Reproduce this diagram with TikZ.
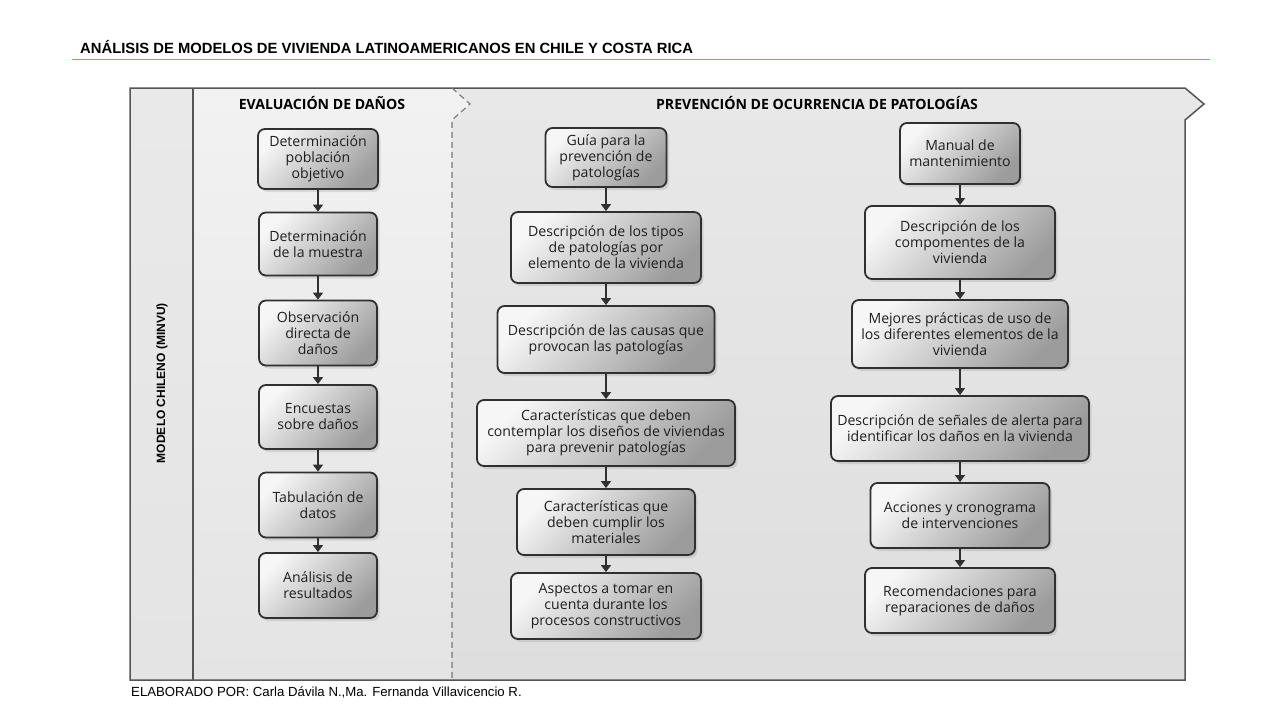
\documentclass[tikz,border=0pt]{standalone}
\usepackage{fontspec}
\setmainfont{Liberation Sans}
\newfontfamily\boxfamily{Open Sans}
\usetikzlibrary{arrows.meta,shadows,shapes.misc}
\definecolor{rulecol}{HTML}{CC8E45}
\definecolor{framecol}{HTML}{555555}
\definecolor{boxline}{HTML}{303030}
\definecolor{boxtext}{HTML}{1E1E1E}
\definecolor{boxlight}{HTML}{F6F6F6}
\definecolor{boxdark}{HTML}{9C9C9C}
\definecolor{stripA}{HTML}{E9E9E9}
\definecolor{stripB}{HTML}{E4E4E4}
\definecolor{secAtop}{HTML}{F2F2F2}
\definecolor{secAbot}{HTML}{E4E4E4}
\definecolor{secBtop}{HTML}{E8E8E8}
\definecolor{secBbot}{HTML}{DEDEDE}
\tikzset{
  fbox/.style={draw=boxline, line width=1.8pt, rounded corners=7pt,
    top color=boxlight, bottom color=boxdark, shading angle=45,
    drop shadow={shadow xshift=2.5pt, shadow yshift=-3pt, opacity=0.22},
    align=center, inner sep=0pt, text=boxtext,
    font=\boxfamily\fontsize{14.1}{16}\selectfont},
  farrow/.style={draw=boxline, line width=1.4pt, -{Triangle[width=10pt,length=7pt]}},
  sechead/.style={font=\boxfamily\bfseries\fontsize{14.1}{16}\selectfont, text=black, inner sep=0pt},
}
\begin{document}
\begin{tikzpicture}[x=1pt,y=-1pt]
\useasboundingbox (0,0) rectangle (1280,720);
\fill[white] (0,0) rectangle (1280,720);
% title and rule
\node[anchor=west, inner sep=0pt, font=\bfseries\fontsize{14.8}{16}\selectfont] (title) at (80,47)
  {ANÁLISIS DE MODELOS DE VIVIENDA LATINOAMERICANOS EN CHILE Y COSTA RICA};
\draw[rulecol, line width=1.5pt] (72,59.5) -- (1210,59.5);
% backgrounds
\shade[top color=stripA, bottom color=stripB] (130,88) rectangle (193,680);
\shade[top color=secAtop, bottom color=secAbot]
  (193,88) -- (452,88) -- (470,104) -- (452,120) -- (452,680) -- (193,680) -- cycle;
\shade[top color=secBtop, bottom color=secBbot]
  (452,88) -- (1185,88) -- (1204,104) -- (1185,120) -- (1185,680) -- (452,680) -- (452,120) -- (470,104) -- cycle;
% frame
\draw[framecol, line width=1.5pt, line join=miter]
  (130,88) -- (1185,88) -- (1204,104) -- (1185,120) -- (1185,680) -- (130,680) -- cycle;
\draw[framecol, line width=1.3pt] (193,88) -- (193,680);
\draw[framecol!80, line width=1.1pt, dash pattern=on 6pt off 4pt]
  (452,88) -- (470,104) -- (452,120) -- (452,680);
% headers
\node[sechead] (h1) at (322,103) {EVALUACIÓN DE DAÑOS};
\node[sechead] (h2) at (817,103) {PREVENCIÓN DE OCURRENCIA DE PATOLOGÍAS};
\node[rotate=90, inner sep=0pt, font=\bfseries\fontsize{12}{14}\selectfont] (side) at (162,383)
  {MODELO CHILENO (MINVU)};
% left column
\node[fbox, minimum width=120pt, minimum height=60pt] (l1) at (318,159) {Determinación\\población\\objetivo};
\node[fbox, minimum width=118pt, minimum height=63pt] (l2) at (318,244) {Determinación\\de la muestra};
\node[fbox, minimum width=118pt, minimum height=65pt] (l3) at (318,333) {Observación\\directa de\\daños};
\node[fbox, minimum width=118pt, minimum height=64pt] (l4) at (318,417) {Encuestas\\sobre daños};
\node[fbox, minimum width=118pt, minimum height=65pt] (l5) at (318,505) {Tabulación de\\datos};
\node[fbox, minimum width=118pt, minimum height=65pt] (l6) at (318,585.5) {Análisis de\\resultados};
% middle column
\node[fbox, minimum width=121pt, minimum height=59pt] (m1) at (606,157.5) {Guía para la\\prevención de\\patologías};
\node[fbox, minimum width=190pt, minimum height=71pt] (m2) at (606,247.5) {Descripción de los tipos\\de patologías por\\elemento de la vivienda};
\node[fbox, minimum width=217pt, minimum height=67pt] (m3) at (606,339.5) {Descripción de las causas que\\provocan las patologías};
\node[fbox, minimum width=258pt, minimum height=66pt] (m4) at (606,433) {Características que deben\\contemplar los diseños de viviendas\\para prevenir patologías};
\node[fbox, minimum width=178pt, minimum height=66pt] (m5) at (606,522) {Características que\\deben cumplir los\\materiales};
\node[fbox, minimum width=190pt, minimum height=66pt] (m6) at (606,606) {Aspectos a tomar en\\cuenta durante los\\procesos constructivos};
% right column
\node[fbox, minimum width=120pt, minimum height=61pt] (r1) at (960,153.5) {Manual de\\mantenimiento};
\node[fbox, minimum width=190pt, minimum height=73pt] (r2) at (960,242.5) {Descripción de los\\compomentes de la\\vivienda};
\node[fbox, minimum width=216pt, minimum height=68pt] (r3) at (960,334) {Mejores prácticas de uso de\\los diferentes elementos de la\\vivienda};
\node[fbox, minimum width=258pt, minimum height=65pt] (r4) at (960,428.5) {Descripción de señales de alerta para\\identificar los daños en la vivienda};
\node[fbox, minimum width=179pt, minimum height=65pt] (r5) at (960,515.5) {Acciones y cronograma\\de intervenciones};
\node[fbox, minimum width=190pt, minimum height=65pt] (r6) at (960,600.5) {Recomendaciones para\\reparaciones de daños};
% arrows
\foreach \a/\b in {l1/l2,l2/l3,l3/l4,l4/l5,l5/l6,m1/m2,m2/m3,m3/m4,m4/m5,m5/m6,r1/r2,r2/r3,r3/r4,r4/r5,r5/r6}
  \draw[farrow] (\a.south) -- (\b.north);
% footer
\node[anchor=west, inner sep=0pt, font=\fontsize{13.2}{15}\selectfont] (foot) at (131,692)
  {ELABORADO POR: Carla Dávila N.,Ma. Fernanda Villavicencio R.};
\end{tikzpicture}
\end{document}
